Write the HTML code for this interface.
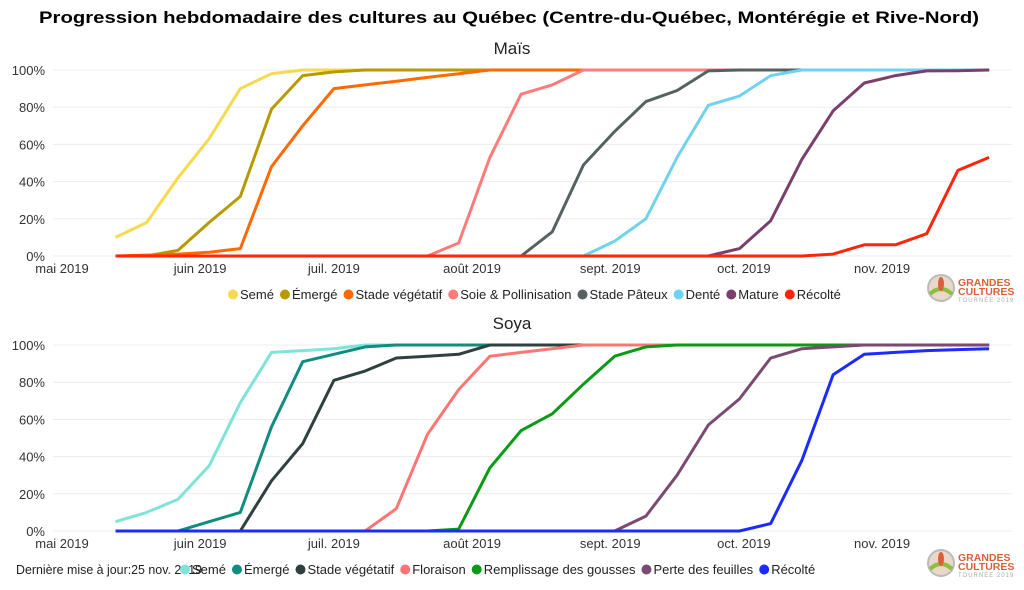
<!DOCTYPE html>
<html><head><meta charset="utf-8">
<style>
html,body{margin:0;padding:0;background:#fff;}
svg{display:block;font-family:"Liberation Sans",sans-serif;}
</style></head>
<body>
<svg id="c" width="1024" height="590" viewBox="0 0 1024 590">
<text x="509" y="23" text-anchor="middle" font-size="17" font-weight="bold" textLength="940" lengthAdjust="spacingAndGlyphs" fill="#000">Progression hebdomadaire des cultures au Québec (Centre-du-Québec, Montérégie et Rive-Nord)</text>
<text x="512" y="54" text-anchor="middle" font-size="17" fill="#222">Maïs</text>
<text x="512" y="329" text-anchor="middle" font-size="17" fill="#222">Soya</text>
<text x="16" y="574" font-size="13" fill="#222" textLength="186" lengthAdjust="spacingAndGlyphs">Dernière mise à jour:25 nov. 2019</text>
</svg>
<script>
const monthLabels=["mai 2019","juin 2019","juil. 2019","août 2019","sept. 2019","oct. 2019","nov. 2019"];
const monthDays=[0,31,61,92,123,153,184];
const yTicks=[0,20,40,60,80,100];
const firstWeekDay=12;
const maisNames=["Semé","Émergé","Stade végétatif","Soie & Pollinisation","Stade Pâteux","Denté","Mature","Récolté"];
const maisSeme=[10,18,42,63,90,98,100,100,100,100,100,100,100,100,100,100,100,100,100,100,100,100,100,100,100,100,100,100,100];
const maisEmerge=[0,0,3,18,32,79,97,99,100,100,100,100,100,100,100,100,100,100,100,100,100,100,100,100,100,100,100,100,100];
const maisVeg=[0,0.5,1,2,4,48,70,90,92,94,96,98,100,100,100,100,100,100,100,100,100,100,100,100,100,100,100,100,100];
const maisSoie=[0,0,0,0,0,0,0,0,0,0,0,7,53,87,92,100,100,100,100,100,100,100,100,100,100,100,100,100,100];
const maisPateux=[0,0,0,0,0,0,0,0,0,0,0,0,0,0,13,49,67,83,89,99.5,100,100,100,100,100,100,100,100,100];
const maisDente=[0,0,0,0,0,0,0,0,0,0,0,0,0,0,0,0,8,20,53,81,86,97,100,100,100,100,100,100,100];
const maisMature=[0,0,0,0,0,0,0,0,0,0,0,0,0,0,0,0,0,0,0,0,4,19,52,78,93,97,99.5,99.6,100];
const maisRecolte=[0,0,0,0,0,0,0,0,0,0,0,0,0,0,0,0,0,0,0,0,0,0,0,1,6,6,12,46,53];
const soyaNames=["Semé","Émergé","Stade végétatif","Floraison","Remplissage des gousses","Perte des feuilles","Récolté"];
const soyaSeme=[5,10,17,35,69,96,97,98,100,100,100,100,100,100,100,100,100,100,100,100,100,100,100,100,100,100,100,100,100];
const soyaEmerge=[0,0,0,5,10,56,91,95,99,100,100,100,100,100,100,100,100,100,100,100,100,100,100,100,100,100,100,100,100];
const soyaVeg=[0,0,0,0,0,27,47,81,86,93,94,95,100,100,100,100,100,100,100,100,100,100,100,100,100,100,100,100,100];
const soyaFlor=[0,0,0,0,0,0,0,0,0,12,52,76,94,96,98,100,100,100,100,100,100,100,100,100,100,100,100,100,100];
const soyaRempl=[0,0,0,0,0,0,0,0,0,0,0,1,34,54,63,79,94,99,100,100,100,100,100,100,100,100,100,100,100];
const soyaPerte=[0,0,0,0,0,0,0,0,0,0,0,0,0,0,0,0,0,8,30,57,71,93,98,99,100,100,100,100,100];
const soyaRecolte=[0,0,0,0,0,0,0,0,0,0,0,0,0,0,0,0,0,0,0,0,0,4,38,84,95,96,97,97.5,98];

const NS="http://www.w3.org/2000/svg";
const svg=document.getElementById('c');
function el(t,a,p){const e=document.createElementNS(NS,t);for(const k in a)e.setAttribute(k,a[k]);(p||svg).appendChild(e);return e;}
const xDay=d=>62+d*4.457;
const xWeek=i=>xDay(firstWeekDay+i*7);

function panel(key,top,bottom,series,colors,names,legendY,legendX){
  const g=el('g',{});
  
  
  const y=v=>bottom-(v/100)*(bottom-top);
  yTicks.forEach(t=>{
    el('line',{x1:53,x2:1012,y1:y(t),y2:y(t),stroke:'#ececec','stroke-width':1},g);
    const tx=el('text',{x:45,y:y(t)+5,'text-anchor':'end','font-size':13,fill:'#333'},g);
    tx.textContent=t+'%';
    
    
  });
  monthLabels.forEach((m,i)=>{
    const tx=el('text',{x:xDay(monthDays[i]),y:bottom+17,'text-anchor':'middle','font-size':13,fill:'#333'},g);
    tx.textContent=m;
    
    
  });
  series.forEach((s,k)=>{
    const pts=s.map((v,i)=>xWeek(i).toFixed(1)+','+y(v).toFixed(1)).join(' ');
    const pl=el('polyline',{points:pts,fill:'none',stroke:colors[k],'stroke-width':3,'stroke-linejoin':'round'},g);
    
    
  });
  let x=legendX;
  names.forEach((n,k)=>{
    const lg=el('g',{},g);
    
    
    el('circle',{cx:x+5,cy:legendY-4.5,r:5,fill:colors[k]},lg);
    const tx=el('text',{x:x+12,y:legendY,'font-size':13,fill:'#222'},lg);
    tx.textContent=n;
    x+=12+tx.getComputedTextLength()+6;
  });
  // logo
  const lo=el('g',{},g);
  
  
  el('circle',{cx:941,cy:bottom+32,r:13,fill:'#e9d8c8',stroke:'#bbb','stroke-width':2},lo);
  el('path',{d:`M930 ${bottom+38} Q941 ${bottom+28} 952 ${bottom+38}`,stroke:'#8cbf3f','stroke-width':4,fill:'none'},lo);
  el('ellipse',{cx:941,cy:bottom+28,rx:3,ry:7,fill:'#d9603a'},lo);
  const t1=el('text',{x:958,y:bottom+30,'font-size':10.5,'font-weight':'bold',fill:'#d9603a'},lo);t1.textContent='GRANDES';
  const t2=el('text',{x:958,y:bottom+39,'font-size':10.5,'font-weight':'bold',fill:'#d9603a'},lo);t2.textContent='CULTURES';
  const t3=el('text',{x:958,y:bottom+46,'font-size':6,fill:'#aaa','letter-spacing':1},lo);t3.textContent='TOURNÉE 2019';
}
panel('mais',70,256,[maisSeme,maisEmerge,maisVeg,maisSoie,maisPateux,maisDente,maisMature,maisRecolte],
  ['#F5D94E','#B89A00','#FF6A00','#FF7B7B','#566262','#6FD2EE','#7B3F6E','#FF250A'],maisNames,299,228);
panel('soya',345,531,[soyaSeme,soyaEmerge,soyaVeg,soyaFlor,soyaRempl,soyaPerte,soyaRecolte],
  ['#7FE3D8','#118C7E','#2F4040','#FF7474','#0A9A14','#7A4A72','#1A2CFF'],soyaNames,574,180);
</script>
</body></html>
